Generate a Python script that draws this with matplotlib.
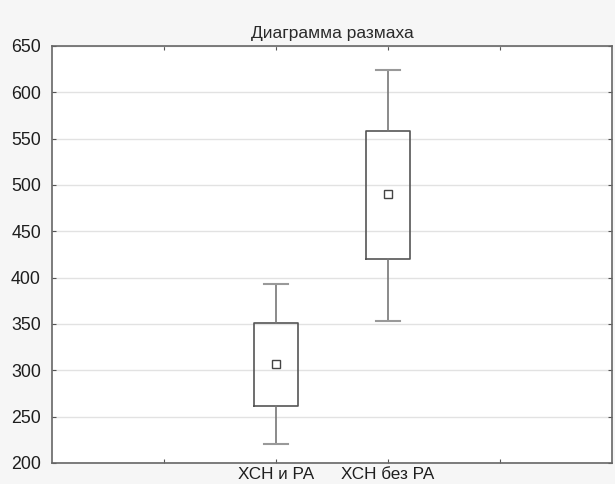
import matplotlib
matplotlib.use("Agg")
import matplotlib.pyplot as plt

groups = ["ХСН и РА", "ХСН без РА"]
means = [307, 490]
box_lo = [262, 420]
box_hi = [351, 558]
whis_lo = [220, 353]
whis_hi = [393, 624]
yticks = [200, 250, 300, 350, 400, 450, 500, 550, 600, 650]

plt.rcParams['font.family'] = ['Liberation Sans', 'DejaVu Sans']

fig = plt.figure(figsize=(6.15, 4.84), dpi=100, facecolor='#f6f6f6')
ax = fig.add_axes([0.0846, 0.0434, 0.9104, 0.8616])
ax.set_facecolor('white')

stats = []
for i, g in enumerate(groups):
    stats.append({'label': g, 'med': means[i], 'mean': means[i],
                  'q1': box_lo[i], 'q3': box_hi[i],
                  'whislo': whis_lo[i], 'whishi': whis_hi[i], 'fliers': []})

line_col = '#777777'
ax.bxp(stats, positions=[2, 3], widths=0.4, showmeans=True,
       boxprops=dict(color='#555555', linewidth=1.2),
       whiskerprops=dict(color=line_col, linewidth=1.2),
       capprops=dict(color='#999999', linewidth=1.5),
       capwidths=0.21,
       medianprops=dict(linewidth=0),
       meanprops=dict(marker='s', markersize=6, markerfacecolor='white',
                      markeredgecolor='#444444', markeredgewidth=1.0))

ax.set_xlim(0, 5)
ax.set_ylim(200, 650)
ax.set_xticks([1, 2, 3, 4])
ax.set_xticklabels(['', groups[0], groups[1], ''])
ax.set_yticks(yticks)
ax.yaxis.grid(True, color='#e2e2e2', linewidth=1)
ax.set_axisbelow(True)
ax.tick_params(direction='in', top=True, right=True, length=3,
               color='#555555', labelsize=12.8, labelcolor='#1e1e1e')
ax.tick_params(axis='y', pad=8)
ax.tick_params(axis='x', pad=3, labelsize=12.3)
for s in ax.spines.values():
    s.set_color('#666666')
    s.set_linewidth(1.2)

ax.set_title('Диаграмма размаха', fontsize=12.5, color='#2a2a2a', pad=6)

fig.savefig('out.png', dpi=100, facecolor=fig.get_facecolor())
